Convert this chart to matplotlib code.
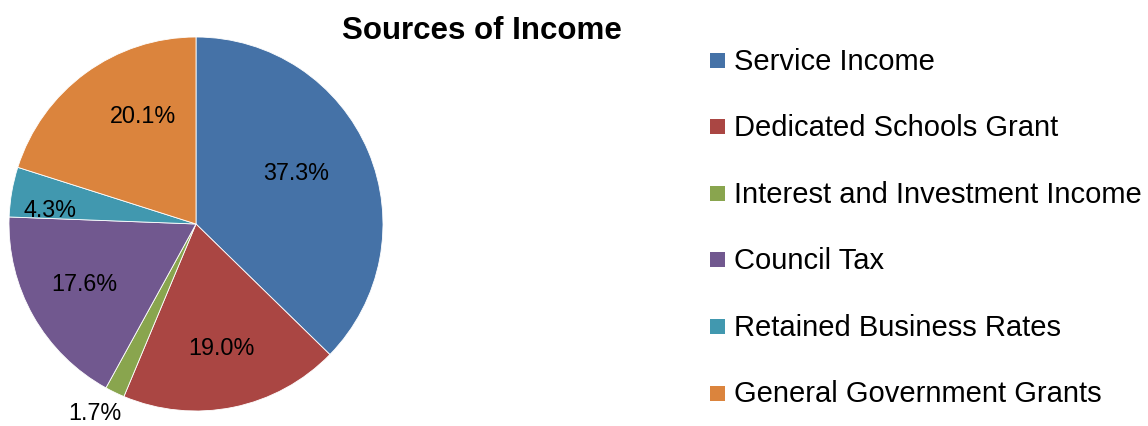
#income_pie.py
#Pie chart of the council's sources of income with a side legend

import matplotlib.pyplot as plt
import matplotlib.patches as mpatches
import numpy as np

plt.rcParams['font.family'] = ['Liberation Sans', 'DejaVu Sans']

# Data
sources = ["Service Income", "Dedicated Schools Grant", "Interest and Investment Income",
           "Council Tax", "Retained Business Rates", "General Government Grants"]
shares = [37.3, 19.0, 1.7, 17.6, 4.3, 20.1]
colours = ["#4572A7", "#AA4643", "#89A54E", "#71588F", "#4198AF", "#DB843D"]

# label placement: distance from centre (1 = rim) and angle nudge in degrees
label_radius = [0.6, 0.68, 1.146, 0.68, 0.785, 0.64]
label_nudge = [4, 0, -2.3, -1, 4.5, -10]

W, H = 1148, 426
fig = plt.figure(figsize=(W / 100, H / 100), dpi=100)

# Pie axes: centre (196, 224) px, radius 187 px
cx, cy, r = 196, 224, 187
ax = fig.add_axes([(cx - r) / W, (H - cy - r) / H, 2 * r / W, 2 * r / H])
wedges, _ = ax.pie(shares, colors=colours, startangle=90, counterclock=False,
                   wedgeprops=dict(edgecolor="white", linewidth=0.6))
ax.set_xlim(-1, 1)
ax.set_ylim(-1, 1)
ax.set_aspect("equal")

for w, val, rad, nudge in zip(wedges, shares, label_radius, label_nudge):
    mid = np.deg2rad((w.theta1 + w.theta2) / 2 + nudge)
    ax.text(rad * np.cos(mid), rad * np.sin(mid), f"{val:.1f}%",
            ha="center", va="center", fontsize=16.8, color="black", clip_on=False)

fig.text(482 / W, 1 - 31 / H, "Sources of Income", ha="center", va="center",
         fontsize=22.5, fontweight="bold")

# Legend drawn by hand: coloured squares with labels
for i, (name, c) in enumerate(zip(sources, colours)):
    y = 60 + i * 66.6
    fig.patches.append(mpatches.Rectangle((710 / W, 1 - (y + 7.5) / H), 15 / W, 15 / H,
                                          transform=fig.transFigure, facecolor=c,
                                          edgecolor="none"))
    fig.text(734 / W, 1 - (y + 1.5) / H, name, ha="left", va="center", fontsize=21)

plt.savefig("out.png", dpi=100)
